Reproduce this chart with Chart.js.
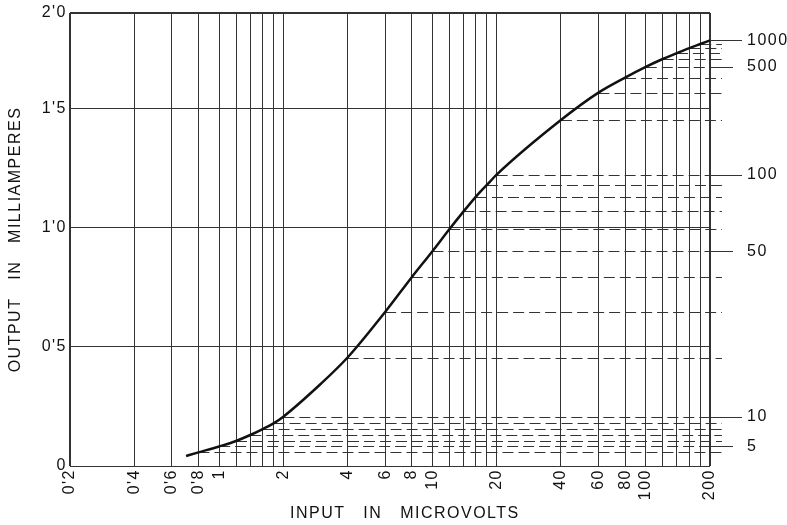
<!DOCTYPE html>
<html>
<head>
<meta charset="utf-8">
<script src="https://cdn.jsdelivr.net/npm/chart.js@4.4.1/dist/chart.umd.min.js"></script>
<style>
  html, body { margin: 0; padding: 0; background: #fff; }
  #wrap { width: 787px; height: 525px; }
</style>
</head>
<body>
<div id="wrap"><canvas id="responseChart"></canvas></div>
<script>
// curve: input (microvolts) -> output (mA)
const curveInputs = [0.7, 0.8, 1, 1.2, 1.4, 1.6, 1.8, 2, 3, 4, 6, 8, 10, 12, 14, 16, 18, 20, 40, 60, 80, 100, 120, 140, 160, 180, 200];
const curveOutputs = [0.042, 0.057, 0.082, 0.105, 0.130, 0.155, 0.179, 0.207, 0.345, 0.455, 0.646, 0.792, 0.901, 0.993, 1.068, 1.130, 1.179, 1.222, 1.451, 1.566, 1.629, 1.674, 1.707, 1.732, 1.753, 1.770, 1.785];

// vertical rulings and bottom tick labels
const gridInputs = [0.2, 0.4, 0.6, 0.8, 1, 1.2, 1.4, 1.6, 1.8, 2, 4, 6, 8, 10, 12, 14, 16, 18, 20, 40, 60, 80, 100, 120, 140, 160, 180, 200];
const xLabelValues = [0.2, 0.4, 0.6, 0.8, 1, 2, 4, 6, 8, 10, 20, 40, 60, 80, 100, 200];
const xLabels = ["0'2", "0'4", "0'6", "0'8", "1", "2", "4", "6", "8", "10", "20", "40", "60", "80", "100", "200"];

// left axis
const yTickValues = [0, 0.5, 1, 1.5, 1.9];
const yTickLabels = ["0", "0'5", "1'0", "1'5", "2'0"];

// dashed levels carried from the curve to the right hand scale
const dashInputs = [0.8, 1, 1.2, 1.4, 1.6, 1.8, 2, 4, 6, 8, 10, 12, 14, 16, 18, 20, 40, 60, 80, 100, 120, 140, 160, 180];
const rightInputs = [1, 2, 10, 20, 100, 200];
const rightLabels = ["5", "10", "50", "100", "500", "1000"];

const outputAt = (v) => curveOutputs[curveInputs.indexOf(v)];

Chart.defaults.font.family = "'Liberation Sans', Arial, sans-serif";
Chart.defaults.font.size = 16;
Chart.defaults.color = "#111";

// wide lettering like the printed figure
const spacing = {
  id: "spacing",
  beforeDraw(chart) {
    chart.ctx.letterSpacing = "1.5px";
  },
  afterDraw(chart) {
    chart.ctx.letterSpacing = "0px";
  },
};

const levelLines = {
  id: "levelLines",
  beforeDatasetsDraw(chart) {
    const { ctx, chartArea, scales } = chart;
    ctx.save();
    ctx.strokeStyle = "#333";
    ctx.lineWidth = 1;
    ctx.setLineDash([11, 5]);
    dashInputs.forEach((v) => {
      const y = Math.round(scales.y.getPixelForValue(outputAt(v))) + 0.5;
      ctx.beginPath();
      ctx.moveTo(scales.x.getPixelForValue(v), y);
      ctx.lineTo(chartArea.right + 12, y);
      ctx.stroke();
    });
    ctx.setLineDash([]);
    rightInputs.forEach((v, k) => {
      const y = Math.round(scales.y.getPixelForValue(outputAt(v))) + 0.5;
      ctx.beginPath();
      ctx.moveTo(chartArea.right, y);
      ctx.lineTo(chartArea.right + (k % 2 ? 32 : 23), y);
      ctx.stroke();
    });
    ctx.restore();
  },
};

const edgeWidth = (edges, wide) => (c) =>
  c.tick && edges.includes(c.tick.value) ? wide : 1;

const responseChart = new Chart(document.querySelector("#responseChart"), {
  type: "line",
  data: {
    datasets: [
      {
        label: "Output",
        data: curveInputs.map((v, i) => ({ x: v, y: curveOutputs[i] })),
        borderColor: "#111",
        borderWidth: 2.5,
        pointRadius: 0,
        cubicInterpolationMode: "monotone",
        fill: false,
      },
    ],
  },
  options: {
    responsive: true,
    maintainAspectRatio: false,
    animation: false,
    layout: {
      padding: { top: 13, left: 0, right: 0, bottom: 0 },
    },
    plugins: {
      legend: { display: false },
      tooltip: { enabled: false },
    },
    scales: {
      x: {
        type: "logarithmic",
        min: 0.2,
        max: 200,
        afterBuildTicks: (s) => {
          s.ticks = gridInputs.map((v) => ({ value: v }));
        },
        afterFit: (s) => {
          s.height = 59;
        },
        ticks: {
          autoSkip: false,
          maxRotation: 90,
          minRotation: 90,
          padding: 3,
          callback: (value) => {
            const i = xLabelValues.indexOf(value);
            return i >= 0 ? xLabels[i] : "";
          },
        },
        grid: {
          color: "#333",
          lineWidth: edgeWidth([0.2, 200], 2),
          drawTicks: false,
        },
        border: { display: false },
        title: {
          display: true,
          text: "     INPUT   IN   MICROVOLTS",
          padding: { top: 0, bottom: 2 },
        },
      },
      y: {
        type: "linear",
        position: "left",
        min: 0,
        max: 1.9,
        afterBuildTicks: (s) => {
          s.ticks = yTickValues.map((v) => ({ value: v }));
        },
        afterFit: (s) => {
          s.width = 70;
          s.paddingTop = 0;
          s.paddingBottom = 0;
        },
        ticks: {
          padding: 3,
          callback: (value, index) => yTickLabels[index],
        },
        grid: {
          color: "#333",
          lineWidth: edgeWidth([1.9], 2),
          drawTicks: false,
        },
        border: { display: false },
        title: {
          display: true,
          text: "OUTPUT   IN   MILLIAMPERES",
          padding: { top: 6, bottom: 0 },
        },
      },
      y2: {
        type: "linear",
        position: "right",
        min: 0,
        max: 1.9,
        afterBuildTicks: (s) => {
          s.ticks = rightInputs.map((v) => ({ value: outputAt(v) }));
        },
        afterFit: (s) => {
          s.width = 77;
          s.paddingTop = 0;
          s.paddingBottom = 0;
        },
        ticks: {
          padding: 37,
          callback: (value, index) => rightLabels[index],
        },
        grid: { display: false, drawTicks: false },
        border: { display: false },
      },
    },
  },
  plugins: [spacing, levelLines],
});
</script>
</body>
</html>
